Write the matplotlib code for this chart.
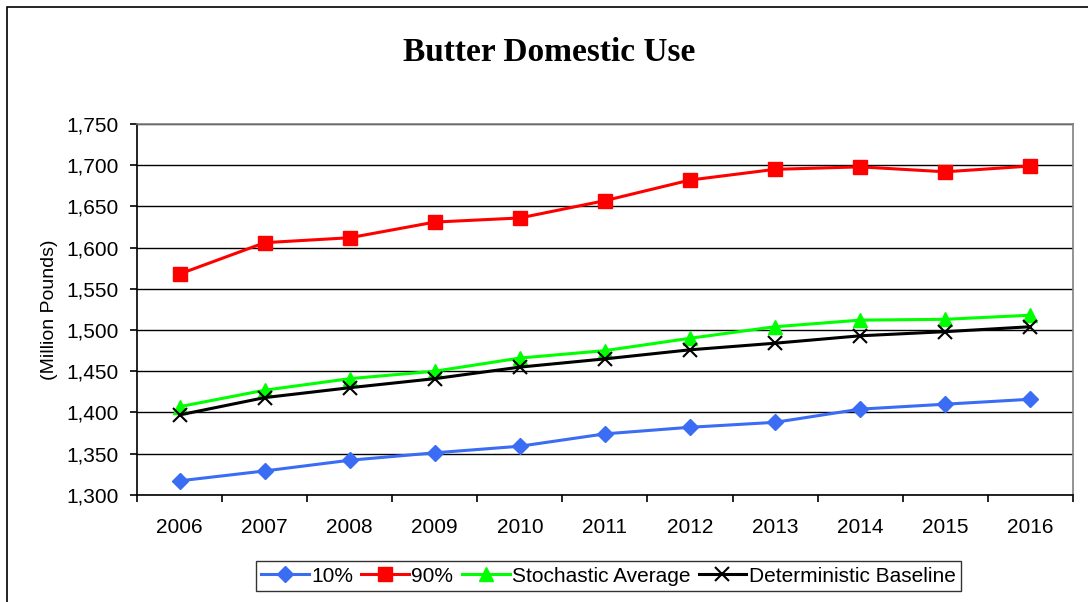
import numpy as np
import matplotlib.pyplot as plt
from matplotlib.patches import Rectangle

plt.rcParams['font.family'] = ['Liberation Sans', 'DejaVu Sans']

years = ['2006', '2007', '2008', '2009', '2010', '2011', '2012', '2013', '2014', '2015', '2016']
p10 = [1317, 1329, 1342, 1351, 1359, 1374, 1382, 1388, 1404, 1410, 1416]
p90 = [1568, 1606, 1612, 1631, 1636, 1657, 1682, 1695, 1698, 1692, 1699]
stoch = [1407, 1427, 1441, 1450, 1466, 1475, 1490, 1504, 1512, 1513, 1518]
determ = [1397, 1418, 1430, 1441, 1455, 1465, 1476, 1484, 1493, 1498, 1504]

fig = plt.figure(figsize=(10.88, 6.02), dpi=100)
ax = fig.add_axes([0.126, 0.178, 0.86, 0.616])

# chart-area border
fig.patches.append(Rectangle((7/1088, -0.05), 1.1, 1 - 7/602 + 0.05, transform=fig.transFigure,
                             fill=False, edgecolor='black', linewidth=1.2))

x = np.arange(len(years))
ax.plot(x, p10, color='#3a6cf4', lw=2.2, marker='D', ms=8, label='10%')
ax.plot(x, p90, color='#ff0000', lw=2.2, marker='s', ms=10, label='90%')
ax.plot(x, stoch, color='#00ff00', lw=2.2, marker='^', ms=10, label='Stochastic Average')
ax.plot(x, determ, color='black', lw=2.2, marker='x', ms=10, mew=1.5, label='Deterministic Baseline')

ax.set_ylim(1300, 1750)
ax.set_yticks(np.arange(1300, 1751, 50))
ax.set_yticklabels([f'{v:,}' for v in range(1300, 1751, 50)])
ax.set_xlim(-0.5, len(years) - 0.5)
ax.set_xticks(x)
ax.set_xticklabels(years)
ax.set_xticks(np.arange(-0.5, len(years)), minor=True)
ax.tick_params(axis='x', which='major', length=0, pad=17, labelsize=15)
ax.tick_params(axis='x', which='minor', length=5, direction='out', width=1.2)
ax.tick_params(axis='y', length=5, direction='out', width=1.2, labelsize=15, pad=8)

ax.yaxis.grid(True, color='black', lw=1.0)
ax.set_axisbelow(True)
for s in ['left', 'bottom']:
    ax.spines[s].set_color('black')
    ax.spines[s].set_linewidth(1.2)
for s in ['top', 'right']:
    ax.spines[s].set_color('#808080')
    ax.spines[s].set_linewidth(1.2)

ax.set_ylabel('(Million Pounds)', fontsize=14, labelpad=6)
fig.text(0.505, 0.913, 'Butter Domestic Use', ha='center', va='center',
         fontsize=24, fontweight='bold', family='Liberation Serif')

leg = fig.legend(loc='center', bbox_to_anchor=(0.559, 0.043), ncol=4, fontsize=15,
                 frameon=True, fancybox=False, edgecolor='black', handlelength=2.3,
                 handletextpad=0.1, columnspacing=0.4, borderpad=0.25)
leg.get_frame().set_linewidth(1.0)

fig.savefig('out.png', dpi=100)
